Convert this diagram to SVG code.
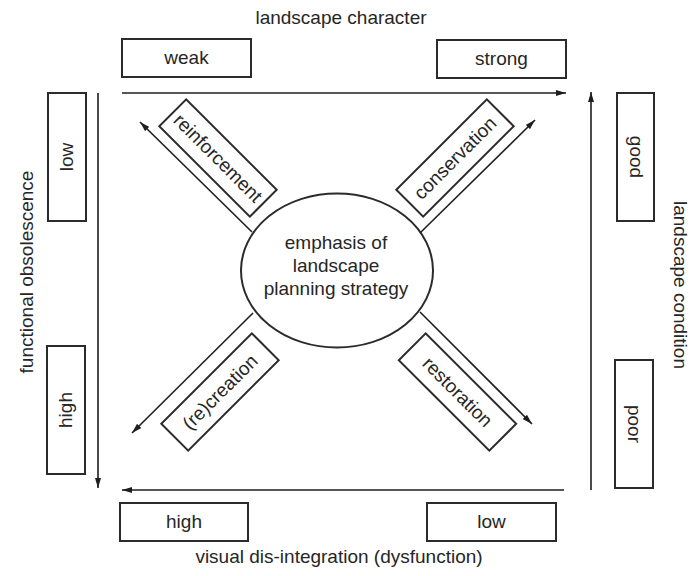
<svg xmlns="http://www.w3.org/2000/svg" width="692" height="576" viewBox="0 0 692 576">
<defs>
<style>
.box{fill:none;stroke:#2b2b2b;stroke-width:2}
.ln{fill:none;stroke:#1e1e1e;stroke-width:1.6}
.ell{fill:none;stroke:#2b2b2b;stroke-width:2}
text{font-family:"Liberation Sans",Arial,Helvetica,sans-serif;font-size:19px;fill:#262626;text-anchor:middle}
</style>
<marker id="ah" markerUnits="userSpaceOnUse" markerWidth="10" markerHeight="6" refX="10" refY="3" orient="auto">
<path d="M0,0 L10,3 L0,6 z" fill="#1e1e1e"/>
</marker>
</defs>
<rect x="0" y="0" width="692" height="576" fill="#ffffff"/>

<g id="labels">
<text x="341" y="24">landscape character</text>
<text x="339" y="563">visual dis-integration (dysfunction)</text>
<text transform="translate(26,272) rotate(-90)" y="6.5">functional obsolescence</text>
<text transform="translate(680,285) rotate(90)" y="6.5">landscape condition</text>
</g>

<g id="connectors">
<line class="ln" x1="122" y1="93" x2="566" y2="93" marker-end="url(#ah)"/>
<line class="ln" x1="591" y1="490" x2="591" y2="92" marker-end="url(#ah)"/>
<line class="ln" x1="98" y1="93" x2="98" y2="488" marker-end="url(#ah)"/>
<line class="ln" x1="564" y1="490" x2="122" y2="490" marker-end="url(#ah)"/>
<line class="ln" x1="252" y1="232" x2="140" y2="122" marker-end="url(#ah)"/>
<line class="ln" x1="420" y1="233" x2="535" y2="120" marker-end="url(#ah)"/>
<line class="ln" x1="253" y1="313" x2="132" y2="433" marker-end="url(#ah)"/>
<line class="ln" x1="420" y1="312" x2="532" y2="424" marker-end="url(#ah)"/>
</g>

<g id="center">
<ellipse class="ell" cx="337" cy="270.5" rx="96" ry="77"/>
<text x="336" y="249">emphasis of</text>
<text x="336" y="272">landscape</text>
<text x="336" y="295">planning strategy</text>
</g>

<g id="weak">
<rect class="box" x="122" y="39" width="129" height="38"/>
<text x="186.5" y="64">weak</text>
</g>
<g id="strong">
<rect class="box" x="437" y="40" width="129" height="38"/>
<text x="501.5" y="65">strong</text>
</g>
<g id="high-bottom">
<rect class="box" x="120" y="503" width="128" height="38"/>
<text x="184" y="528">high</text>
</g>
<g id="low-bottom">
<rect class="box" x="427" y="503" width="129" height="38"/>
<text x="491.5" y="528">low</text>
</g>

<g id="low-left">
<rect class="box" x="48" y="93" width="38" height="128"/>
<text transform="translate(66.5,157) rotate(-90)" y="6.5">low</text>
</g>
<g id="high-left">
<rect class="box" x="47" y="346" width="38" height="128"/>
<text transform="translate(65.5,410) rotate(-90)" y="6.5">high</text>
</g>
<g id="good">
<rect class="box" x="617" y="93" width="37" height="128"/>
<text transform="translate(636,157) rotate(90)" y="6.5">good</text>
</g>
<g id="poor">
<rect class="box" x="615" y="360" width="38" height="128"/>
<text transform="translate(634.5,424) rotate(90)" y="6.5">poor</text>
</g>

<g id="reinforcement" transform="translate(218,158) rotate(45)">
<rect class="box" x="-64" y="-19" width="128" height="38"/>
<text y="6.5">reinforcement</text>
</g>
<g id="conservation" transform="translate(455,158) rotate(-45)">
<rect class="box" x="-64" y="-19" width="128" height="38"/>
<text y="6.5">conservation</text>
</g>
<g id="recreation" transform="translate(220,392) rotate(-45)">
<rect class="box" x="-64" y="-19" width="128" height="38"/>
<text y="6.5">(re)creation</text>
</g>
<g id="restoration" transform="translate(457.5,392) rotate(45)">
<rect class="box" x="-64" y="-19" width="128" height="38"/>
<text y="6.5">restoration</text>
</g>
</svg>
